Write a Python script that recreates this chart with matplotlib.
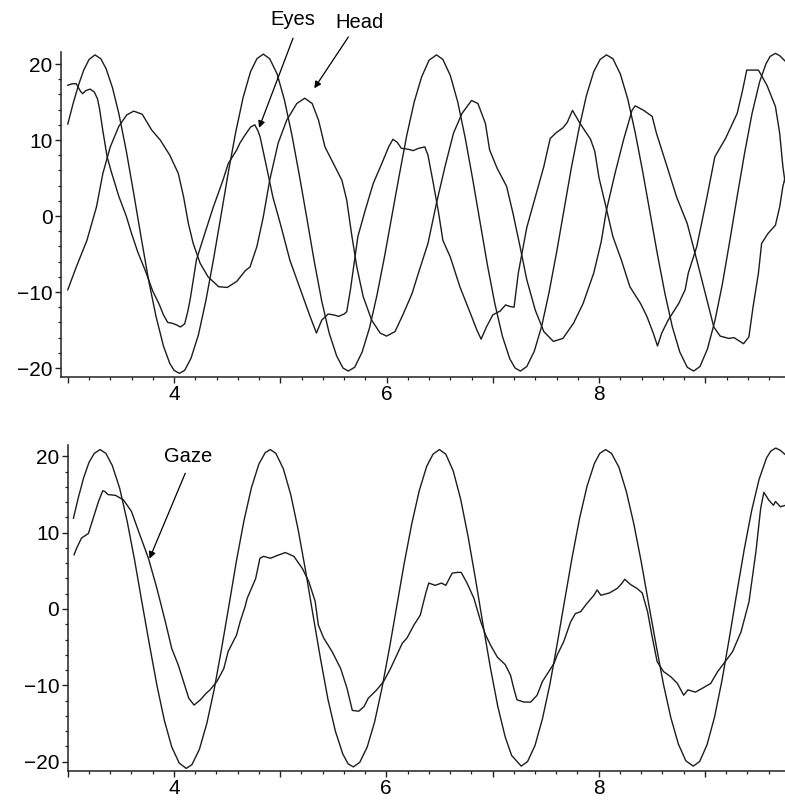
import matplotlib
matplotlib.use("Agg")
import matplotlib.pyplot as plt
from matplotlib.ticker import FixedLocator, MultipleLocator, FuncFormatter

plt.rcParams['font.family'] = ['Liberation Sans', 'DejaVu Sans']

# ---- top panel: target, eyes, head ----
target_top_x = [3.00, 3.05, 3.10, 3.15, 3.20, 3.256, 3.31, 3.36, 3.42, 3.48, 3.55, 3.62, 3.69, 3.76,
                3.83, 3.90, 3.96, 4.00, 4.05, 4.10, 4.16, 4.23, 4.30, 4.37, 4.44, 4.51, 4.58, 4.65,
                4.72, 4.78, 4.84, 4.90, 4.97, 5.04, 5.11, 5.18, 5.25, 5.32, 5.39, 5.46, 5.53, 5.59,
                5.64, 5.70, 5.77, 5.84, 5.91, 5.98, 6.05, 6.12, 6.19, 6.26, 6.33, 6.40, 6.47, 6.53,
                6.60, 6.67, 6.74, 6.81, 6.88, 6.95, 7.02, 7.09, 7.16, 7.21, 7.26, 7.32, 7.39, 7.46,
                7.53, 7.60, 7.67, 7.74, 7.81, 7.88, 7.95, 8.01, 8.07, 8.13, 8.20, 8.27, 8.34, 8.41,
                8.48, 8.55, 8.62, 8.69, 8.76, 8.83, 8.89, 8.95, 9.02, 9.09, 9.16, 9.23, 9.30, 9.37,
                9.44, 9.51, 9.57, 9.61, 9.66, 9.70, 9.75]
target_top_y = [12.1, 14.8, 17.2, 19.2, 20.6, 21.2, 20.7, 19.4, 16.9, 13.5, 8.6, 3.0, -2.8, -8.4,
                -13.2, -17.1, -19.4, -20.3, -20.7, -20.3, -18.7, -15.6, -11.1, -5.8, -0.1, 5.7, 11.0, 15.6,
                19.0, 20.7, 21.3, 20.7, 18.7, 15.2, 10.6, 5.3, -0.3, -6.0, -11.2, -15.4, -18.4, -20.0,
                -20.4, -19.9, -17.9, -14.7, -10.4, -5.4, 0.0, 5.4, 10.6, 15.0, 18.3, 20.5, 21.2, 20.6,
                18.5, 15.0, 10.3, 4.9, -0.8, -6.5, -11.6, -15.8, -18.8, -20.0, -20.4, -19.8, -17.8, -14.5,
                -10.0, -4.8, 0.8, 6.4, 11.4, 15.8, 19.0, 20.6, 21.2, 20.7, 18.7, 15.4, 11.0, 5.9,
                0.4, -5.1, -10.2, -14.6, -17.9, -19.9, -20.4, -19.8, -17.5, -13.8, -9.0, -3.3, 2.6, 8.3,
                13.5, 17.6, 20.0, 21.0, 21.4, 21.1, 20.4]

eyes_x = [3.00, 3.04, 3.08, 3.12, 3.14, 3.17, 3.21, 3.25, 3.28, 3.30, 3.33, 3.37, 3.41, 3.48, 3.55,
          3.60, 3.66, 3.73, 3.80, 3.86, 3.90, 3.94, 3.98, 4.02, 4.06, 4.10, 4.13, 4.15, 4.18, 4.21,
          4.28, 4.37, 4.46, 4.51, 4.59, 4.62, 4.67, 4.72, 4.76, 4.79, 4.81, 4.87, 4.93, 5.00, 5.09,
          5.19, 5.28, 5.34, 5.39, 5.45, 5.50, 5.55, 5.60, 5.625, 5.66, 5.69, 5.73, 5.80, 5.875, 5.955,
          6.02, 6.06, 6.10, 6.14, 6.20, 6.25, 6.30, 6.36, 6.39, 6.44, 6.49, 6.53, 6.60, 6.63, 6.69,
          6.80, 6.85, 6.89, 6.94, 7.00, 7.07, 7.12, 7.16, 7.20, 7.24, 7.32, 7.40, 7.48, 7.54, 7.60,
          7.66, 7.70, 7.75, 7.82, 7.92, 7.96, 8.00, 8.06, 8.13, 8.21, 8.29, 8.39, 8.45, 8.51, 8.55,
          8.59, 8.65, 8.75, 8.81, 8.84, 8.92, 9.01, 9.09, 9.19, 9.30, 9.35, 9.39, 9.50, 9.58, 9.66,
          9.70, 9.73, 9.75]
eyes_y = [17.2, 17.4, 17.4, 16.4, 16.1, 16.5, 16.7, 16.3, 15.4, 14.0, 11.2, 7.8, 5.8, 2.6, 0.0,
          -2.3, -4.8, -7.2, -9.9, -11.6, -13.0, -14.0, -14.1, -14.3, -14.6, -14.2, -12.5, -11.1, -8.5, -5.8,
          -2.7, 1.2, 4.7, 6.9, 8.7, 9.6, 10.7, 11.7, 12.0, 11.2, 10.4, 6.5, 2.5, -1.0, -5.8,
          -9.7, -13.2, -15.4, -13.7, -12.9, -13.0, -13.2, -12.9, -12.6, -9.7, -6.7, -2.7, 0.8, 4.3, 6.9,
          9.1, 10.1, 9.7, 8.9, 8.8, 8.6, 8.9, 9.1, 8.0, 4.3, 0.4, -3.2, -5.4, -6.7, -9.3,
          -13.2, -15.0, -16.2, -14.6, -13.0, -12.5, -11.7, -11.9, -12.0, -7.5, -1.5, 2.5, 6.5, 10.2, 11.0,
          11.6, 12.3, 13.9, 12.2, 10.1, 8.5, 5.0, 1.5, -2.7, -5.8, -9.3, -11.5, -13.2, -15.4, -17.1,
          -15.4, -13.7, -11.5, -9.7, -7.5, -4.0, 2.1, 7.8, 10.2, 13.5, 16.5, 19.2, 19.2, 17.2, 14.4,
          10.9, 6.5, 4.5]

head_x = [3.00, 3.08, 3.18, 3.27, 3.33, 3.40, 3.48, 3.555, 3.62, 3.70, 3.79, 3.87, 3.96, 4.04, 4.09,
          4.135, 4.18, 4.245, 4.32, 4.42, 4.50, 4.59, 4.67, 4.715, 4.78, 4.84, 4.90, 4.98, 5.06, 5.155,
          5.23, 5.30, 5.36, 5.42, 5.50, 5.58, 5.625, 5.67, 5.72, 5.78, 5.86, 5.94, 6.00, 6.08, 6.16,
          6.24, 6.30, 6.39, 6.47, 6.55, 6.63, 6.71, 6.80, 6.86, 6.93, 6.97, 7.04, 7.13, 7.19, 7.256,
          7.32, 7.40, 7.48, 7.57, 7.66, 7.76, 7.85, 7.95, 8.02, 8.07, 8.15, 8.23, 8.31, 8.34, 8.42,
          8.50, 8.54, 8.64, 8.73, 8.83, 8.92, 9.00, 9.08, 9.14, 9.22, 9.27, 9.36, 9.41, 9.45, 9.50,
          9.53, 9.59, 9.66, 9.70, 9.73, 9.75]
head_y = [-9.7, -6.7, -3.2, 1.2, 5.6, 9.1, 11.8, 13.3, 13.8, 13.4, 11.3, 10.0, 8.0, 5.6, 2.5,
          -1.0, -3.6, -6.2, -8.0, -9.3, -9.4, -8.6, -7.2, -6.7, -4.0, -0.1, 4.7, 9.6, 12.6, 14.8,
          15.5, 14.8, 12.6, 9.1, 6.9, 4.7, 2.1, -2.3, -6.7, -10.6, -13.7, -15.4, -15.8, -15.2, -12.8,
          -10.2, -7.5, -3.6, 1.7, 6.5, 10.9, 13.5, 15.2, 14.8, 12.2, 8.7, 6.3, 3.9, 0.35, -4.0,
          -8.4, -12.4, -15.2, -16.5, -16.1, -14.1, -11.5, -7.5, -3.4, 0.8, 5.6, 10.0, 13.9, 14.5, 13.9,
          13.1, 10.9, 6.5, 2.5, -1.0, -5.8, -10.2, -14.6, -15.8, -16.1, -16.0, -16.8, -15.9, -11.9, -7.5,
          -3.6, -2.3, -1.2, 1.2, 3.9, 5.0]

# ---- bottom panel: target, gaze ----
target_bot_x = [3.054, 3.10, 3.15, 3.20, 3.25, 3.305, 3.36, 3.42, 3.49, 3.56, 3.63, 3.70, 3.77, 3.84,
                3.91, 3.98, 4.05, 4.116, 4.17, 4.24, 4.31, 4.38, 4.45, 4.52, 4.59, 4.66, 4.73, 4.80,
                4.86, 4.908, 4.96, 5.03, 5.10, 5.17, 5.24, 5.31, 5.38, 5.45, 5.52, 5.59, 5.64, 5.69,
                5.75, 5.82, 5.89, 5.96, 6.03, 6.10, 6.17, 6.24, 6.31, 6.38, 6.44, 6.50, 6.56, 6.63,
                6.70, 6.77, 6.84, 6.91, 6.98, 7.05, 7.12, 7.18, 7.27, 7.33, 7.40, 7.47, 7.54, 7.61,
                7.68, 7.75, 7.82, 7.89, 7.96, 8.01, 8.065, 8.12, 8.19, 8.26, 8.33, 8.40, 8.47, 8.54,
                8.61, 8.68, 8.75, 8.82, 8.89, 8.95, 9.02, 9.09, 9.16, 9.23, 9.30, 9.37, 9.44, 9.51,
                9.58, 9.62, 9.667, 9.71, 9.76]
target_bot_y = [11.9, 14.6, 17.2, 19.2, 20.4, 20.9, 20.4, 18.8, 15.8, 11.5, 6.4, 0.8, -4.7, -10.0,
                -14.6, -18.1, -20.2, -20.9, -20.4, -18.4, -15.0, -10.5, -5.1, 0.6, 6.4, 11.6, 15.9, 19.0,
                20.5, 20.9, 20.4, 18.4, 15.0, 10.4, 5.0, -0.8, -6.5, -11.8, -16.0, -19.0, -20.3, -20.7,
                -20.1, -18.1, -14.8, -10.3, -5.1, 0.5, 6.1, 11.2, 15.5, 18.7, 20.3, 20.9, 20.3, 18.1,
                14.4, 9.5, 3.9, -2.0, -7.7, -12.8, -16.8, -19.2, -20.6, -20.0, -17.9, -14.4, -9.9, -4.5,
                1.2, 6.8, 11.9, 16.1, 19.1, 20.4, 20.9, 20.4, 18.6, 15.4, 11.2, 6.2, 0.7, -4.7,
                -9.9, -14.3, -17.7, -19.9, -20.6, -20.0, -17.8, -14.2, -9.4, -3.8, 2.1, 7.8, 12.9, 17.0,
                19.8, 20.7, 21.1, 20.8, 20.2]

gaze_x = [3.06, 3.085, 3.13, 3.195, 3.24, 3.29, 3.33, 3.35, 3.38, 3.45, 3.525, 3.60, 3.68, 3.76,
          3.84, 3.92, 3.98, 4.04, 4.09, 4.14, 4.19, 4.25, 4.30, 4.34, 4.405, 4.47, 4.51, 4.59, 4.625,
          4.67, 4.69, 4.77, 4.81, 4.845, 4.91, 4.97, 5.05, 5.13, 5.21, 5.27, 5.33, 5.36, 5.41, 5.49,
          5.57, 5.63, 5.68, 5.74, 5.79, 5.83, 5.91, 5.975, 6.04, 6.10, 6.15, 6.195, 6.26, 6.32, 6.37,
          6.40, 6.46, 6.52, 6.56, 6.62, 6.67, 6.705, 6.76, 6.825, 6.89, 6.935, 6.98, 7.045, 7.12, 7.17,
          7.20, 7.23, 7.295, 7.36, 7.42, 7.47, 7.53, 7.58, 7.61, 7.67, 7.735, 7.78, 7.83, 7.89, 7.955,
          7.985, 8.02, 8.10, 8.175, 8.22, 8.245, 8.30, 8.36, 8.41, 8.46, 8.50, 8.55, 8.61, 8.68, 8.74,
          8.80, 8.84, 8.91, 8.975, 9.055, 9.12, 9.18, 9.26, 9.34, 9.415, 9.48, 9.525, 9.555, 9.60, 9.645,
          9.665, 9.71, 9.76]
gaze_y = [7.1, 8.0, 9.3, 9.9, 11.9, 14.1, 15.5, 15.4, 15.0, 14.9, 14.3, 12.8, 9.7, 6.65,
          2.7, -1.7, -5.2, -7.3, -9.5, -11.7, -12.6, -11.9, -11.1, -10.6, -9.5, -7.8, -5.6, -3.4, -1.6,
          0.3, 1.4, 4.0, 6.65, 6.9, 6.65, 7.0, 7.4, 6.9, 5.3, 3.6, 1.0, -2.1, -3.8, -5.6,
          -7.8, -10.4, -13.3, -13.4, -12.8, -11.7, -10.6, -9.5, -7.8, -6.0, -4.5, -3.8, -2.1, -0.8, 2.0,
          3.4, 3.1, 3.4, 3.1, 4.7, 4.8, 4.8, 3.4, 1.4, -1.7, -3.4, -4.7, -6.3, -7.3, -8.7,
          -10.4, -11.9, -12.2, -12.2, -11.3, -9.5, -8.2, -7.1, -6.0, -4.3, -1.7, -0.6, -0.35, 0.75, 1.8,
          2.5, 1.8, 2.1, 2.7, 3.4, 3.9, 3.2, 2.7, 2.1, -0.35, -3.4, -6.9, -8.2, -8.9, -9.75,
          -11.3, -10.6, -10.9, -10.4, -9.75, -8.2, -7.1, -5.6, -3.0, 0.95, 7.5, 13.2, 15.3, 14.3, 13.6,
          14.1, 13.4, 13.6]

x_major = [3, 4, 5, 6, 7, 8, 9]
x_labels = {4: '4', 6: '6', 8: '8'}
y_major = [-20, -10, 0, 10, 20]

line_color = '#1c1c1c'
fig = plt.figure(figsize=(7.85, 8.01), dpi=100)
ax1 = fig.add_axes([61 / 785, 1 - 377 / 801, 724 / 785, 325 / 801])
ax2 = fig.add_axes([67.7 / 785, 1 - 770.7 / 801, 717.3 / 785, 325.7 / 801])

ax1.plot(target_top_x, target_top_y, color=line_color, lw=1.0)
ax1.plot(eyes_x, eyes_y, color=line_color, lw=1.0)
ax1.plot(head_x, head_y, color=line_color, lw=1.0)
ax1.set_xlim(2.936, 9.75)
ax1.set_ylim(-21.18, 21.58)

ax2.plot(target_bot_x, target_bot_y, color=line_color, lw=1.0)
ax2.plot(gaze_x, gaze_y, color=line_color, lw=1.0)
ax2.set_xlim(3.0, 9.754)
ax2.set_ylim(-21.2, 21.5)

for ax in (ax1, ax2):
    for s in ('top', 'right'):
        ax.spines[s].set_visible(False)
    for s in ('left', 'bottom'):
        ax.spines[s].set_linewidth(1.1)
        ax.spines[s].set_color('#222222')
    ax.xaxis.set_major_locator(FixedLocator(x_major))
    ax.xaxis.set_minor_locator(MultipleLocator(0.2))
    ax.xaxis.set_major_formatter(FuncFormatter(lambda v, p: x_labels.get(int(round(v)), '')))
    ax.yaxis.set_major_locator(FixedLocator(y_major))
    ax.yaxis.set_minor_locator(MultipleLocator(2))
    ax.tick_params(which='major', direction='out', length=4.5, width=1.0, labelsize=15, color='#222222')
    ax.tick_params(which='minor', direction='out', length=2.5, width=0.9, color='#222222')
    ax.tick_params(axis='x', which='major', pad=1.5)
    ax.tick_params(axis='y', which='major', pad=1.5)

arrow = dict(arrowstyle='-|>', color='black', lw=0.9, mutation_scale=10, shrinkA=0, shrinkB=0)
ax1.text(5.12, 25.8, 'Eyes', ha='center', va='center', fontsize=14.5, clip_on=False)
ax1.annotate('', xy=(4.80, 11.6), xytext=(5.12, 23.4), arrowprops=arrow, annotation_clip=False)
ax1.text(5.75, 25.4, 'Head', ha='center', va='center', fontsize=14.5, clip_on=False)
ax1.annotate('', xy=(5.32, 16.8), xytext=(5.64, 23.55), arrowprops=arrow, annotation_clip=False)
ax2.text(4.135, 20.0, 'Gaze', ha='center', va='center', fontsize=14.5, clip_on=False)
ax2.annotate('', xy=(3.77, 6.6), xytext=(4.107, 17.8), arrowprops=arrow, annotation_clip=False)

fig.savefig('out.png', dpi=100)
